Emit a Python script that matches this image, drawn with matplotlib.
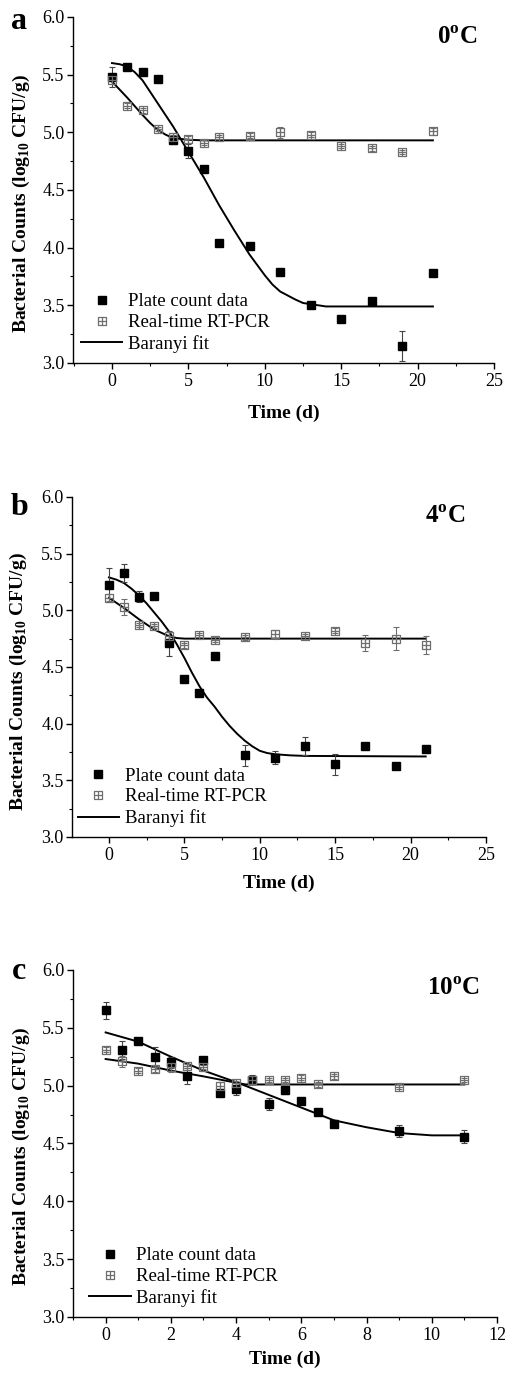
import matplotlib
matplotlib.use("Agg")
import matplotlib.pyplot as plt
from matplotlib.path import Path
from matplotlib.ticker import MultipleLocator, FormatStrFormatter
from matplotlib.lines import Line2D

plt.rcParams['font.family'] = ['Liberation Serif', 'DejaVu Serif']
plt.rcParams['mathtext.fontset'] = 'custom'
plt.rcParams['mathtext.rm'] = 'Liberation Serif'
plt.rcParams['mathtext.bf'] = 'Liberation Serif:bold'

# ---- panel a, 0 C ----
a_t = [0, 1, 2, 3, 4, 5, 6, 7, 9, 11, 13, 15, 17, 19, 21]
a_plate = [5.48, 5.57, 5.52, 5.46, 4.93, 4.84, 4.68, 4.04, 4.01, 3.79, 3.50, 3.38, 3.54, 3.15, 3.78]
a_plate_err = [0.09, 0.02, 0.02, 0.02, 0.03, 0.06, 0.02, 0.02, 0.02, 0.02, 0.02, 0.02, 0.02, 0.13, 0.02]
a_rt = [5.45, 5.23, 5.19, 5.03, 4.96, 4.94, 4.91, 4.96, 4.97, 5.00, 4.98, 4.88, 4.86, 4.83, 5.01]
a_rt_err = [0.03, 0.02, 0.02, 0.02, 0.02, 0.03, 0.02, 0.02, 0.02, 0.05, 0.02, 0.02, 0.02, 0.02, 0.03]
a_fit_t = [0, 0.5, 1, 1.5, 2, 2.5, 3, 4, 5, 6, 7, 8, 9, 9.5, 10, 10.5, 11, 11.5, 12, 12.5, 13, 14, 21]
a_fit_plate = [5.60, 5.59, 5.57, 5.52, 5.45, 5.35, 5.25, 5.05, 4.83, 4.61, 4.37, 4.15, 3.94, 3.85,
               3.76, 3.68, 3.62, 3.585, 3.55, 3.52, 3.51, 3.49, 3.49]
a_fit_rt_t = [0, 1, 2, 2.5, 3, 3.5, 4, 5, 6, 21]
a_fit_rt = [5.44, 5.30, 5.15, 5.08, 5.02, 4.98, 4.95, 4.935, 4.93, 4.93]

# ---- panel b, 4 C ----
b_t = [0, 1, 2, 3, 4, 5, 6, 7, 9, 11, 13, 15, 17, 19, 21]
b_plate = [5.22, 5.33, 5.12, 5.13, 4.71, 4.39, 4.27, 4.60, 3.72, 3.70, 3.80, 3.64, 3.80, 3.63, 3.78]
b_plate_err = [0.15, 0.08, 0.05, 0.02, 0.11, 0.02, 0.02, 0.02, 0.09, 0.06, 0.08, 0.09, 0.02, 0.02, 0.02]
b_rt = [5.11, 5.03, 4.87, 4.86, 4.77, 4.69, 4.78, 4.74, 4.76, 4.79, 4.77, 4.82, 4.71, 4.75, 4.69]
b_rt_err = [0.03, 0.07, 0.02, 0.02, 0.04, 0.02, 0.02, 0.02, 0.02, 0.04, 0.02, 0.02, 0.07, 0.10, 0.08]
b_fit_t = [0, 0.5, 1, 1.5, 2, 2.5, 3, 3.5, 4, 4.5, 5, 5.5, 6, 6.5, 7, 7.5, 8, 8.5, 9, 9.5,
           10, 10.5, 11, 12, 13, 21]
b_fit_plate = [5.29, 5.27, 5.24, 5.19, 5.13, 5.06, 4.98, 4.90, 4.81, 4.70, 4.58, 4.45, 4.33, 4.23,
               4.15, 4.06, 3.98, 3.91, 3.85, 3.80, 3.76, 3.74, 3.73, 3.72, 3.715, 3.71]
b_fit_rt_t = [0, 1, 2, 3, 4, 4.5, 5, 21]
b_fit_rt = [5.11, 5.02, 4.92, 4.83, 4.77, 4.755, 4.75, 4.75]

# ---- panel c, 10 C ----
c_t = [0, 0.5, 1, 1.5, 2, 2.5, 3, 3.5, 4, 4.5, 5, 5.5, 6, 6.5, 7, 9, 11]
c_plate = [5.65, 5.31, 5.39, 5.25, 5.20, 5.08, 5.22, 4.94, 4.97, 5.05, 4.84, 4.96, 4.87, 4.77, 4.67, 4.61, 4.56]
c_plate_err = [0.07, 0.08, 0.02, 0.08, 0.05, 0.07, 0.02, 0.02, 0.05, 0.04, 0.05, 0.03, 0.02, 0.02, 0.03, 0.05, 0.06]
c_rt = [5.31, 5.21, 5.13, 5.14, 5.16, 5.17, 5.16, 5.00, 5.02, 5.05, 5.05, 5.05, 5.07, 5.01, 5.08, 4.99, 5.05]
c_rt_err = [0.02, 0.05, 0.02, 0.02, 0.04, 0.02, 0.02, 0.03, 0.02, 0.02, 0.02, 0.02, 0.02, 0.02, 0.02, 0.02, 0.02]
c_fit_t = [0, 1, 2, 3, 4, 5, 6, 7, 8, 9, 9.5, 10, 11]
c_fit_plate = [5.46, 5.38, 5.25, 5.13, 5.03, 4.92, 4.81, 4.70, 4.64, 4.59, 4.58, 4.57, 4.57]
c_fit_rt_t = [0, 1, 2, 3, 4, 4.3, 11]
c_fit_rt = [5.23, 5.19, 5.13, 5.08, 5.025, 5.01, 5.01]

# square with a cross inside, like the Origin marker
boxcross = Path([(-1, -1), (1, -1), (1, 1), (-1, 1), (-1, -1), (0, -1), (0, 1), (-1, 0), (1, 0)],
                [Path.MOVETO, Path.LINETO, Path.LINETO, Path.LINETO, Path.CLOSEPOLY,
                 Path.MOVETO, Path.LINETO, Path.MOVETO, Path.LINETO])
gray = '#6e6e6e'

fig = plt.figure(figsize=(5.05, 13.77), dpi=100)

panels = [
    dict(rect=[0.1446, 0.7364, 0.8337, 0.2513], t=a_t, p=a_plate, pe=a_plate_err, r=a_rt, re=a_rt_err,
         ft=a_fit_t, fp=a_fit_plate, frt=a_fit_rt_t, fr=a_fit_rt, xlim=(-2.55, 25), xmaj=5,
         temp=r'0$^{\mathbf{o}}$C', tpos=(0.96, 0.975), letter='a', lpos=(0.022, 0.979),
         ylab=(-0.097, 0.46), xpad=11, leg=(0.01, 0.018)),
    dict(rect=[0.1426, 0.3922, 0.8198, 0.2469], t=b_t, p=b_plate, pe=b_plate_err, r=b_rt, re=b_rt_err,
         ft=b_fit_t, fp=b_fit_plate, frt=b_fit_rt_t, fr=b_fit_rt, xlim=(-2.45, 25), xmaj=5,
         temp=r'4$^{\mathbf{o}}$C', tpos=(0.95, 0.975), letter='b', lpos=(0.022, 0.626),
         ylab=(-0.103, 0.456), xpad=8, leg=(0.005, 0.018)),
    dict(rect=[0.1446, 0.0436, 0.8396, 0.2520], t=c_t, p=c_plate, pe=c_plate_err, r=c_rt, re=c_rt_err,
         ft=c_fit_t, fp=c_fit_plate, frt=c_fit_rt_t, fr=c_fit_rt, xlim=(-1.0, 12), xmaj=2,
         temp=r'10$^{\mathbf{o}}$C', tpos=(0.96, 0.98), letter='c', lpos=(0.024, 0.289),
         ylab=(-0.097, 0.461), xpad=5, leg=(0.03, 0.018)),
]

for pn in panels:
    ax = fig.add_axes(pn['rect'])
    ax.errorbar(pn['t'], pn['p'], yerr=pn['pe'], fmt='s', color='black', ms=6.2,
                ecolor='#444444', elinewidth=0.8, capsize=2.5, capthick=0.8, zorder=3)
    ax.errorbar(pn['t'], pn['r'], yerr=pn['re'], fmt='none', ecolor=gray,
                elinewidth=0.8, capsize=2.5, capthick=0.8, zorder=3)
    ax.plot(pn['t'], pn['r'], ls='none', marker=boxcross, ms=5.6, mfc='none', mec=gray, mew=0.9, zorder=4)
    ax.plot(pn['ft'], pn['fp'], color='black', lw=1.4, zorder=2)
    ax.plot(pn['frt'], pn['fr'], color='black', lw=1.4, zorder=2)

    ax.set_xlim(*pn['xlim'])
    ax.set_ylim(3.0, 6.0)
    ax.xaxis.set_major_locator(MultipleLocator(pn['xmaj']))
    ax.xaxis.set_minor_locator(MultipleLocator(pn['xmaj'] / 2))
    ax.yaxis.set_major_locator(MultipleLocator(0.5))
    ax.yaxis.set_minor_locator(MultipleLocator(0.25))
    ax.yaxis.set_major_formatter(FormatStrFormatter('%.1f'))
    ax.spines['top'].set_visible(False)
    ax.spines['right'].set_visible(False)
    ax.spines['left'].set_linewidth(1.0)
    ax.spines['bottom'].set_linewidth(1.0)
    ax.tick_params(which='major', direction='out', length=4, width=1.0, labelsize=13, pad=2)
    ax.tick_params(which='minor', direction='out', length=2.2, width=0.8)
    ax.tick_params(axis='x', which='major', pad=3)

    ax.set_xlabel('Time (d)', fontsize=14, fontweight='bold', labelpad=pn['xpad'])
    ax.set_ylabel(r'Bacterial Counts (log$_{\mathbf{10}}$ CFU/g)', fontsize=14, fontweight='bold')
    ax.yaxis.set_label_coords(*pn['ylab'])

    ax.text(pn['tpos'][0], pn['tpos'][1], pn['temp'], transform=ax.transAxes, ha='right', va='top',
            fontsize=18, fontweight='bold')
    fig.text(pn['lpos'][0], pn['lpos'][1], pn['letter'], fontsize=23, fontweight='bold', va='baseline')

    handles = [
        Line2D([], [], ls='none', marker='s', ms=6.2, color='black'),
        Line2D([], [], ls='none', marker=boxcross, ms=5.6, mfc='none', mec=gray, mew=0.9),
        Line2D([], [], color='black', lw=1.4),
    ]
    ax.legend(handles, ['Plate count data', 'Real-time RT-PCR', 'Baranyi fit'],
              loc='lower left', bbox_to_anchor=pn['leg'], frameon=False, fontsize=13.5,
              handlelength=2.2, handletextpad=0.3, labelspacing=0.2, borderpad=0.2, borderaxespad=0)

fig.savefig('out.png', dpi=100)
